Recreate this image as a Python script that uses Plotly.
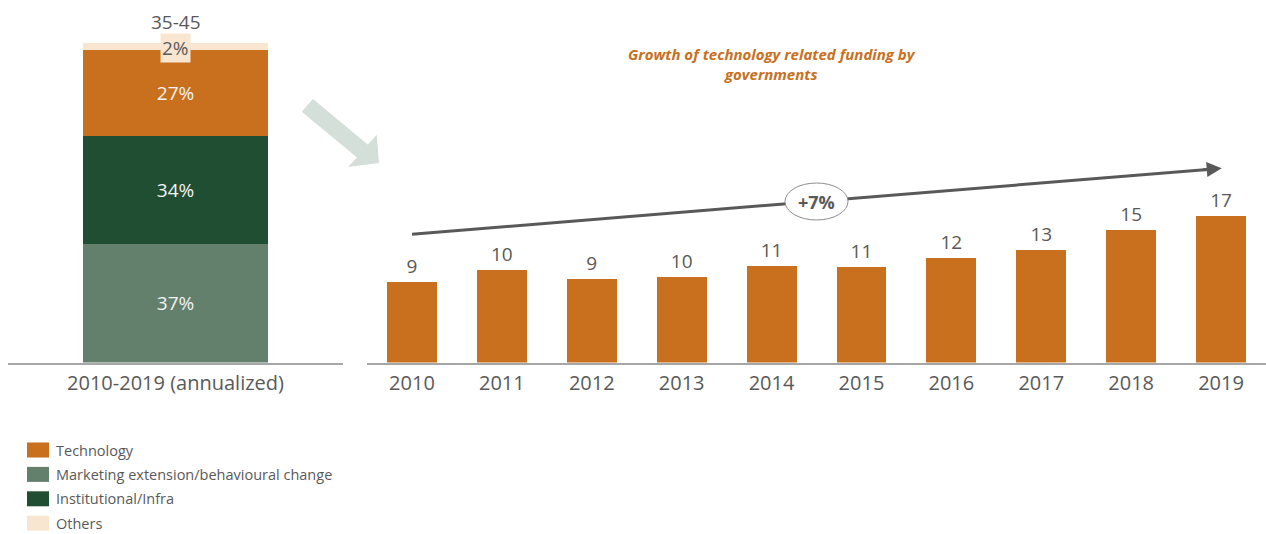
import plotly.graph_objects as go

# ---------------- data ----------------
split_category = ["2010-2019 (annualized)"]
split_series = ["Marketing extension/behavioural change", "Institutional/Infra", "Technology", "Others"]
split_values = [37, 34, 27, 2]
split_total_label = "35-45"

years = ["2010", "2011", "2012", "2013", "2014", "2015", "2016", "2017", "2018", "2019"]
tech_funding = [9.06, 10.46, 9.37, 9.63, 10.91, 10.76, 11.74, 12.75, 14.98, 16.56]
growth_label = "+7%"
title_text = "Growth of technology related funding by<br>governments"

legend_order = ["Technology", "Marketing extension/behavioural change", "Institutional/Infra", "Others"]

# ---------------- styles ----------------
W, H = 1266, 534
FONT = "Open Sans"
GREY = "#595959"
colors = {
    "Technology": "#C8701E",
    "Marketing extension/behavioural change": "#62806C",
    "Institutional/Infra": "#1F4E33",
    "Others": "#F9E6D1",
}

def px(x):
    return x / W

def py(y):
    return 1 - y / H

base_y = 362.5
ydom = [py(base_y), 1]

fig = go.Figure()

# left stacked bar
for name, val in zip(split_series, split_values):
    show_txt = name != "Others"
    fig.add_trace(go.Bar(
        x=split_category, y=[val], name=name,
        marker=dict(color=colors[name], line=dict(width=0)),
        text=[f"{val}%"] if show_txt else None,
        textposition="inside", insidetextanchor="middle",
        textfont=dict(family=FONT, size=19, color="#F2F2F2"),
        xaxis="x", yaxis="y", showlegend=False, hoverinfo="skip",
    ))

# right bars
fig.add_trace(go.Bar(
    x=years, y=tech_funding, name="Technology",
    marker=dict(color=colors["Technology"], line=dict(width=0)),
    text=[f"{round(v)}" for v in tech_funding], textposition="outside",
    textfont=dict(family=FONT, size=19, color=GREY),
    cliponaxis=False, xaxis="x2", yaxis="y2", showlegend=False, hoverinfo="skip",
))

total_split = sum(split_values)
axis_common = dict(showline=True, linewidth=2, linecolor="#A6A6A6",
                   ticks="outside", ticklen=1, tickcolor="rgba(0,0,0,0)",
                   tickfont=dict(size=20, color=GREY), showgrid=False, fixedrange=True)
fig.update_layout(
    width=W, height=H, margin=dict(l=0, r=0, t=0, b=0),
    paper_bgcolor="white", plot_bgcolor="white",
    barmode="stack", bargap=0.445,
    font=dict(family=FONT, color=GREY),
    xaxis=dict(domain=[px(8), px(343)], **axis_common),
    yaxis=dict(domain=ydom, range=[0, base_y / 3.192], visible=False, fixedrange=True),
    xaxis2=dict(domain=[px(367), 1], **axis_common),
    yaxis2=dict(domain=ydom, range=[0, base_y / 8.86], visible=False, fixedrange=True, anchor="x2"),
    showlegend=False,
)

annotations = []
# "2%" label with box
annotations.append(dict(x=split_category[0], y=total_split - split_values[-1] / 2 - 0.5, xref="x", yref="y",
                        text=f"{split_values[-1]}%", showarrow=False, bgcolor=colors["Others"],
                        yanchor="middle", font=dict(family=FONT, size=19, color=GREY), borderpad=1))
# total label
annotations.append(dict(x=split_category[0], y=total_split + 6.7, xref="x", yref="y",
                        text=split_total_label, showarrow=False, yanchor="middle",
                        font=dict(family=FONT, size=19, color=GREY)))
# title
annotations.append(dict(x=px(772), y=py(63.5), xref="paper", yref="paper", text=title_text,
                        showarrow=False, align="center", yanchor="middle",
                        font=dict(family=FONT, size=15, color="#C8701E", weight="bold", style="italic")))
# growth label
annotations.append(dict(x=px(816.5), y=py(201.5), xref="paper", yref="paper", text=f"<b>{growth_label}</b>",
                        showarrow=False, yanchor="middle", font=dict(family=FONT, size=18, color=GREY)))
# arrowhead of trend line
x0t, y0t, x1t, y1t = 412, 234.3, 1221.7, 168.3
dxu, dyu = (x1t - x0t), (y1t - y0t)
L = (dxu ** 2 + dyu ** 2) ** 0.5
annotations.append(dict(x=px(x1t), y=py(y1t), xref="paper", yref="paper", text="",
                        showarrow=True, arrowhead=2, arrowsize=1, arrowwidth=3, arrowcolor=GREY,
                        ax=-dxu / L * 20, ay=-dyu / L * 20))

# custom legend
for i, name in enumerate(legend_order):
    cy = 450 + i * 24.4
    fig.add_shape(type="rect", xref="paper", yref="paper", x0=px(27), x1=px(49),
                  y0=py(cy - 7.5), y1=py(cy + 7.5), fillcolor=colors[name], line=dict(width=0))
    annotations.append(dict(x=px(54), y=py(cy), xref="paper", yref="paper", text=name,
                            xanchor="left", yanchor="middle", showarrow=False,
                            font=dict(family=FONT, size=14.5, color=GREY)))

fig.update_layout(annotations=annotations)

# trend line
fig.add_shape(type="line", xref="paper", yref="paper", x0=px(x0t), y0=py(y0t),
              x1=px(x1t - dxu / L * 8), y1=py(y1t - dyu / L * 8), line=dict(color=GREY, width=3))
# ellipse around growth label
fig.add_shape(type="circle", xref="paper", yref="paper", x0=px(785), x1=px(848), y0=py(220), y1=py(183),
              fillcolor="white", line=dict(color="#8C8C8C", width=1))

# big light arrow
pts = [(301.7, 111.7), (313, 99), (367.7, 144.4), (376.7, 135), (379, 163), (348, 167), (357, 157.6)]
path = "M " + " L ".join(f"{px(a):.5f},{py(b):.5f}" for a, b in pts) + " Z"
fig.add_shape(type="path", xref="paper", yref="paper", path=path, fillcolor="#D5DFDA", line=dict(width=0))

fig.write_html("out.html", config={"displayModeBar": False},
               post_script="document.body.style.margin='0';document.body.style.overflow='hidden';")
